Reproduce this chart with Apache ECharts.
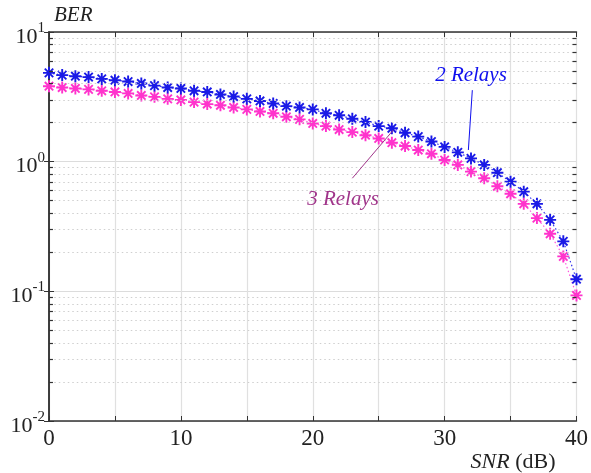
<!DOCTYPE html>
<html>
<head>
<meta charset="utf-8">
<script src="https://cdn.jsdelivr.net/npm/echarts@6/dist/echarts.min.js"></script>
<style>html,body{margin:0;padding:0;background:#fff;}#c{width:591px;height:473px;}</style>
</head>
<body>
<div id="c"></div>
<script>
var snr = [0,1,2,3,4,5,6,7,8,9,10,11,12,13,14,15,16,17,18,19,20,21,22,23,24,25,26,27,28,29,30,31,32,33,34,35,36,37,38,39,40];
var ber2Relays = [4.84,4.65,4.56,4.49,4.35,4.25,4.15,4.01,3.86,3.73,3.67,3.52,3.45,3.30,3.18,3.05,2.94,2.81,2.68,2.62,2.53,2.36,2.28,2.14,2.02,1.88,1.81,1.67,1.56,1.43,1.30,1.18,1.06,0.944,0.822,0.701,0.587,0.473,0.356,0.243,0.124];
var ber3Relays = [3.82,3.73,3.67,3.61,3.52,3.45,3.36,3.24,3.16,3.05,2.99,2.88,2.78,2.72,2.62,2.53,2.44,2.36,2.22,2.12,1.97,1.88,1.77,1.69,1.60,1.51,1.40,1.32,1.23,1.15,1.03,0.944,0.838,0.745,0.646,0.565,0.473,0.367,0.278,0.186,0.093];
var xTickLabels = ['0','10','20','30','40'];
var yDecades = [0.01, 0.1, 1, 10];
var minorMultipliers = [2,3,4,5,6,7,8,9];
var label2 = '2 Relays';
var label3 = '3 Relays';
var label2Pos = [32.0, 4.64];
var label3Pos = [22.3, 0.507];
var leader2 = [[32.1, 3.56], [31.8, 1.23]];
var leader3 = [[23.0, 0.745], [26.1, 1.75]];

var minorVals = [];
for (var d = 0; d < yDecades.length - 1; d++) {
  for (var m = 0; m < minorMultipliers.length; m++) minorVals.push(yDecades[d] * minorMultipliers[m]);
}
var gridLines = minorVals.map(function (v) {
  return [{coord: [0.4, v]}, {coord: [40, v]}];
});
var tickLinesL = minorVals.map(function (v) {
  return [{coord: [0, v]}, {coord: [0.3, v], lineStyle: {type: 'solid', color: '#333', width: 1.2}}];
});
var tickLinesR = minorVals.map(function (v) {
  return [{coord: [39.7, v]}, {coord: [40, v], lineStyle: {type: 'solid', color: '#333', width: 1.2}}];
});

var star = 'path://M5,0L5,10M0,5L10,5M1.5,1.5L8.5,8.5M1.5,8.5L8.5,1.5';
var font = "'Liberation Serif', 'Times New Roman', serif";

var chart = echarts.init(document.getElementById('c'), null, {renderer: 'canvas'});
function yLabel(v) {
  var e = Math.round(Math.log10(v));
  return '{b|10}{s|' + e + '}';
}
var axisLine = {show: true, lineStyle: {color: '#333', width: 1.5}};
chart.setOption({
  animation: false,
  backgroundColor: '#fff',
  grid: {left: 49, right: 10, top: 32, bottom: 51, containLabel: false},
  xAxis: [{
    type: 'value', min: 0, max: 40, interval: 10, position: 'bottom',
    axisLine: axisLine,
    axisTick: {show: true, inside: true, length: 5, lineStyle: {color: '#333'}},
    minorTick: {show: true, splitNumber: 2, length: 5, lineStyle: {color: '#333'}},
    splitLine: {show: true, lineStyle: {color: '#e0e0e0', width: 1.2}},
    minorSplitLine: {show: true, lineStyle: {color: '#e0e0e0', width: 1.2}},
    axisLabel: {fontFamily: font, fontSize: 23, color: '#222', margin: 6,
      formatter: function (v) { return xTickLabels[Math.round(v / 10)]; }},
    name: '{i|SNR} (dB)', nameLocation: 'end', nameGap: 0,
    nameTextStyle: {fontFamily: font, fontSize: 22, color: '#222', align: 'right', verticalAlign: 'top', padding: [30, 21, 0, 0],
      rich: {i: {fontFamily: font, fontSize: 22, fontStyle: 'italic', color: '#222'}}}
  }, {
    type: 'value', min: 0, max: 40, interval: 10, position: 'top',
    axisLine: axisLine,
    axisTick: {show: true, inside: true, length: 5, lineStyle: {color: '#333'}},
    minorTick: {show: true, splitNumber: 2, length: 5, lineStyle: {color: '#333'}},
    splitLine: {show: false}, axisLabel: {show: false}
  }],
  yAxis: [{
    type: 'log', logBase: 10, min: 0.01, max: 10, position: 'left',
    axisLine: axisLine,
    axisTick: {show: true, inside: true, length: 5, lineStyle: {color: '#333'}},
    splitLine: {show: true, lineStyle: {color: '#dcdcdc', width: 1.2}},
    axisLabel: {formatter: yLabel, margin: 4,
      rich: {
        b: {fontFamily: font, fontSize: 22, color: '#222', padding: [10, 0, 0, 0]},
        s: {fontFamily: font, fontSize: 15, color: '#222', padding: [0, 0, 8, 0]}
      }},
    name: 'BER', nameLocation: 'end', nameGap: 6,
    nameTextStyle: {fontFamily: font, fontSize: 21, fontStyle: 'italic', color: '#222', align: 'left', padding: [0, 0, 0, 5]}
  }, {
    type: 'log', logBase: 10, min: 0.01, max: 10, position: 'right',
    axisLine: axisLine,
    axisTick: {show: true, inside: true, length: 5, lineStyle: {color: '#333'}},
    splitLine: {show: false}, axisLabel: {show: false}
  }],
  series: [{
    name: 'grid', type: 'line', data: [], xAxisIndex: 0, yAxisIndex: 0,
    markLine: {silent: true, symbol: ['none', 'none'], label: {show: false},
      lineStyle: {type: [1.5, 3], color: '#cfcfcf', width: 1.2},
      data: gridLines.concat(tickLinesL, tickLinesR)}
  }, {
    name: '3 Relays', type: 'line', xAxisIndex: 0, yAxisIndex: 0,
    data: snr.map(function (x, i) { return [x, ber3Relays[i]]; }),
    symbol: star, symbolSize: 12,
    lineStyle: {type: [1.5, 2.5], color: '#ff55dd', width: 1.2},
    itemStyle: {color: '#ff33cc', borderColor: '#ff33cc', borderWidth: 1.9},
    markLine: {silent: true, symbol: ['none', 'none'], label: {show: false},
      lineStyle: {type: 'solid', color: '#a0358a', width: 1},
      data: [[{coord: leader3[0]}, {coord: leader3[1]}]]},
    markPoint: {silent: true, symbol: 'circle', symbolSize: 0,
      label: {show: true, position: 'inside', fontFamily: font, fontSize: 21, fontStyle: 'italic', color: '#a0358a', formatter: label3},
      data: [{coord: label3Pos}]}
  }, {
    name: '2 Relays', type: 'line', xAxisIndex: 0, yAxisIndex: 0,
    data: snr.map(function (x, i) { return [x, ber2Relays[i]]; }),
    symbol: star, symbolSize: 12,
    lineStyle: {type: [1.5, 2.5], color: '#3333ee', width: 1.2},
    itemStyle: {color: '#1a1ae6', borderColor: '#1a1ae6', borderWidth: 1.9},
    markLine: {silent: true, symbol: ['none', 'none'], label: {show: false},
      lineStyle: {type: 'solid', color: '#1010ee', width: 1},
      data: [[{coord: leader2[0]}, {coord: leader2[1]}]]},
    markPoint: {silent: true, symbol: 'circle', symbolSize: 0,
      label: {show: true, position: 'inside', fontFamily: font, fontSize: 21, fontStyle: 'italic', color: '#1010ee', formatter: label2},
      data: [{coord: label2Pos}]}
  }]
});
</script>
</body>
</html>
